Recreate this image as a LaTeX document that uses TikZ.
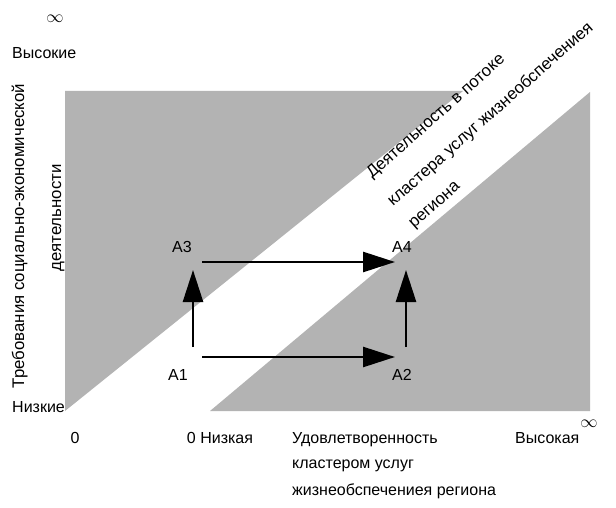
\documentclass[tikz,border=0pt]{standalone}
\usepackage{fontspec}
\setmainfont{Liberation Sans}
\usetikzlibrary{arrows.meta}
\definecolor{zonegray}{RGB}{179,179,179}
\tikzset{
  lbl/.style={inner sep=0pt, font=\fontsize{16}{19}\selectfont},
  biglbl/.style={inner sep=0pt, font=\fontsize{16.8}{20}\selectfont},
  flow/.style={line width=2.6pt, -{Triangle[length=32pt,width=20pt]}},
  zone/.style={fill=zonegray, draw=none},
}
\begin{document}
\begin{tikzpicture}[x=1pt,y=-1pt]
\useasboundingbox (0,0) rectangle (616,508);
% gray zones
\fill[zone] (65,91) -- (463,91) -- (65,411) -- cycle;
\fill[zone] (210,411) -- (590,411) -- (590,92) -- cycle;
% diagonal band text
\node[biglbl, anchor=base west, rotate=41.5] (d1) at (372,179) {Деятельность в потоке};
\node[biglbl, anchor=base west, rotate=41.5] (d2) at (393,207) {кластера услуг жизнеобспечениея};
\node[biglbl, anchor=base west, rotate=41.5] (d3) at (414,229) {региона};
% axis labels
\node[lbl, font=\fontsize{18}{20}\selectfont] (inftop) at (55,19) {$\infty$};
\node[lbl, anchor=base west] (high) at (12,59) {Высокие};
\node[lbl, anchor=base west] (low) at (12,412) {Низкие};
\node[biglbl, anchor=base, rotate=90] (yax1) at (24,236) {Требования социально-экономической};
\node[biglbl, anchor=base, rotate=90] (yax2) at (61,218) {деятельности};
\node[lbl, anchor=base] (zero1) at (75,443) {0};
\node[lbl, anchor=base] (zero2) at (220,443) {0 Низкая};
\node[lbl, anchor=base west] (xax1) at (292,443) {Удовлетворенность};
\node[lbl, anchor=base west] (xax2) at (292,468) {кластером услуг};
\node[lbl, anchor=base west] (xax3) at (292,495) {жизнеобспечениея региона};
\node[lbl, anchor=base west] (vhigh) at (515,443) {Высокая};
\node[lbl] (infr) at (589,424) {$\infty$};
% points
\node[lbl] (A1) at (178,375) {A1};
\node[lbl] (A2) at (402,375) {A2};
\node[lbl] (A3) at (182,247) {A3};
\node[lbl] (A4) at (402,247) {A4};
\coordinate (a1r) at (202,357);
\coordinate (a2l) at (395,357);
\coordinate (a3r) at (202,262);
\coordinate (a4l) at (395,262);
\coordinate (a1u) at (193,347);
\coordinate (a3d) at (193,270);
\coordinate (a2u) at (406,347);
\coordinate (a4d) at (406,270);
\draw[flow] (a1r) -- (a2l);
\draw[flow] (a3r) -- (a4l);
\draw[flow] (a1u) -- (a3d);
\draw[flow] (a2u) -- (a4d);
\end{tikzpicture}
\end{document}
